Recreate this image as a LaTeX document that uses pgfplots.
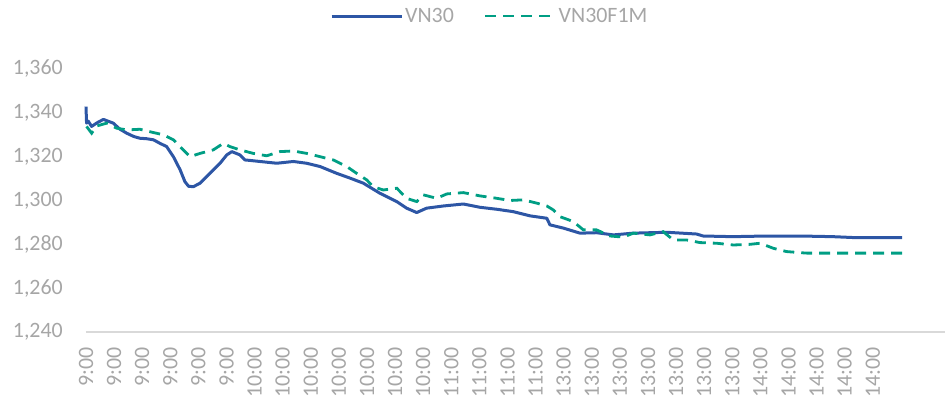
\documentclass[border=0pt]{standalone}
\usepackage{pgfplots}
\pgfplotsset{compat=1.18}
\usepackage{fontspec}
\setmainfont{Carlito}
\definecolor{vnblue}{RGB}{45,86,165}
\definecolor{vngreen}{RGB}{0,158,132}
\definecolor{lblgray}{RGB}{166,166,166}
\definecolor{axgray}{RGB}{217,217,217}
\begin{document}
\begin{tikzpicture}
\path[use as bounding box] (-86bp,-71bp) rectangle (863bp,332bp);
\begin{axis}[
  scale only axis,
  width=859bp, height=263bp,
  xmin=0, xmax=30.57,
  ymin=1240, ymax=1360,
  axis x line*=bottom, axis y line*=left,
  x axis line style={draw=axgray, line width=1.2bp, -},
  y axis line style={draw=none},
  major tick length=0pt,
  xtick={0,...,28},
  xticklabels={9:00,9:00,9:00,9:00,9:00,9:00,10:00,10:00,10:00,10:00,10:00,10:00,10:00,11:00,11:00,11:00,11:00,13:00,13:00,13:00,13:00,13:00,13:00,13:00,14:00,14:00,14:00,14:00,14:00},
  xticklabel style={yshift=-15bp, rotate=90, anchor=east, inner sep=0pt, font=\fontsize{22}{26}\selectfont, text=lblgray},
  ytick={1240,1260,...,1360},
  yticklabel style={anchor=east, inner sep=0pt, xshift=-23bp, font=\fontsize{22}{26}\selectfont, text=lblgray},
  /pgf/number format/.cd, 1000 sep={,}, assume math mode=true,
  /pgfplots/.cd,
  legend style={draw=none, fill=none, at={(rel axis cs:0.47,1.2015)}, anchor=center,
    font=\fontsize{22}{26}\selectfont, text=lblgray, legend columns=2,
    /tikz/every even column/.append style={column sep=28bp}},
  legend image code/.code={\draw[#1] (0bp,0bp) -- (70bp,0bp);},
  clip=false,
]
\addplot[vnblue, line width=3bp, line join=round] coordinates {
(0,1342.8) (0.02,1335.3) (0.08,1336.2) (0.2,1333.8) (0.4,1335.5) (0.62,1337) (0.97,1335.3)
(1.2,1332.6) (1.45,1330.7) (1.7,1329.2) (1.92,1328.4) (2.15,1328.2) (2.4,1327.7) (2.63,1326.1)
(2.87,1324.6) (3.11,1320) (3.35,1314) (3.52,1308.6) (3.65,1306.5) (3.82,1306.3) (4.06,1307.9)
(4.41,1312.4) (4.77,1317) (5.01,1320.8) (5.19,1322.3) (5.48,1320.8) (5.66,1318.5) (5.9,1318.2)
(6.19,1317.8) (6.79,1317) (7.38,1317.8) (7.85,1317) (8.33,1315.5) (8.92,1312.4) (9.4,1310.2)
(9.87,1307.9) (10.46,1303.3) (11.06,1299.5) (11.41,1296.5) (11.77,1294.5) (12.12,1296.5)
(12.72,1297.5) (13.43,1298.4) (14.02,1296.9) (14.62,1296) (15.21,1294.9) (15.8,1293)
(16.4,1291.9) (16.51,1288.9) (16.99,1287.4) (17.58,1285.1) (18.17,1285.3) (18.77,1284.3)
(19.47,1285.1) (20.67,1285.5) (21.73,1284.7) (21.96,1283.8) (23.02,1283.5) (24.22,1283.8)
(25.41,1283.8) (26.58,1283.5) (27.3,1283.1) (29.04,1283.1)
};
\addlegendentry{VN30}
\addplot[vngreen, line width=2.8bp, dash pattern=on 11bp off 7bp] coordinates {
(0.02,1333.8) (0.2,1330.7) (0.38,1334) (0.74,1335.3) (1.09,1333) (1.45,1332.2) (1.92,1332.5)
(2.4,1331) (2.75,1330) (3.11,1327.7) (3.46,1323.1) (3.7,1320) (4.06,1321.5) (4.53,1323.1)
(4.89,1326.1) (5.12,1324.6) (5.48,1323.1) (5.95,1321.5) (6.43,1320.4) (6.9,1322.3) (7.38,1322.6)
(7.85,1321.5) (8.33,1320) (8.8,1318.5) (9.28,1315.5) (9.63,1312.4) (9.99,1309.4) (10.22,1306.3)
(10.58,1304.8) (11.06,1305.6) (11.41,1301) (11.77,1299.5) (12,1302.6) (12.48,1301) (12.84,1303)
(13.43,1303.6) (14.02,1302.1) (14.62,1301) (15.09,1300) (15.56,1300.3) (16.04,1298.8)
(16.4,1297.5) (16.63,1295.7) (16.87,1292.6) (17.34,1290.4) (17.7,1286.6) (18.17,1286.6)
(18.65,1283.8) (19.12,1283.3) (19.48,1285.1) (20.07,1284.3) (20.54,1285.8) (20.9,1282)
(21.37,1282) (21.85,1280.8) (22.44,1280.5) (23.04,1279.7) (23.63,1280) (23.99,1280.5)
(24.46,1278.2) (24.93,1276.7) (25.41,1276.2) (25.65,1276) (29.04,1276)
};
\addlegendentry{VN30F1M}
\end{axis}
\end{tikzpicture}
\end{document}
